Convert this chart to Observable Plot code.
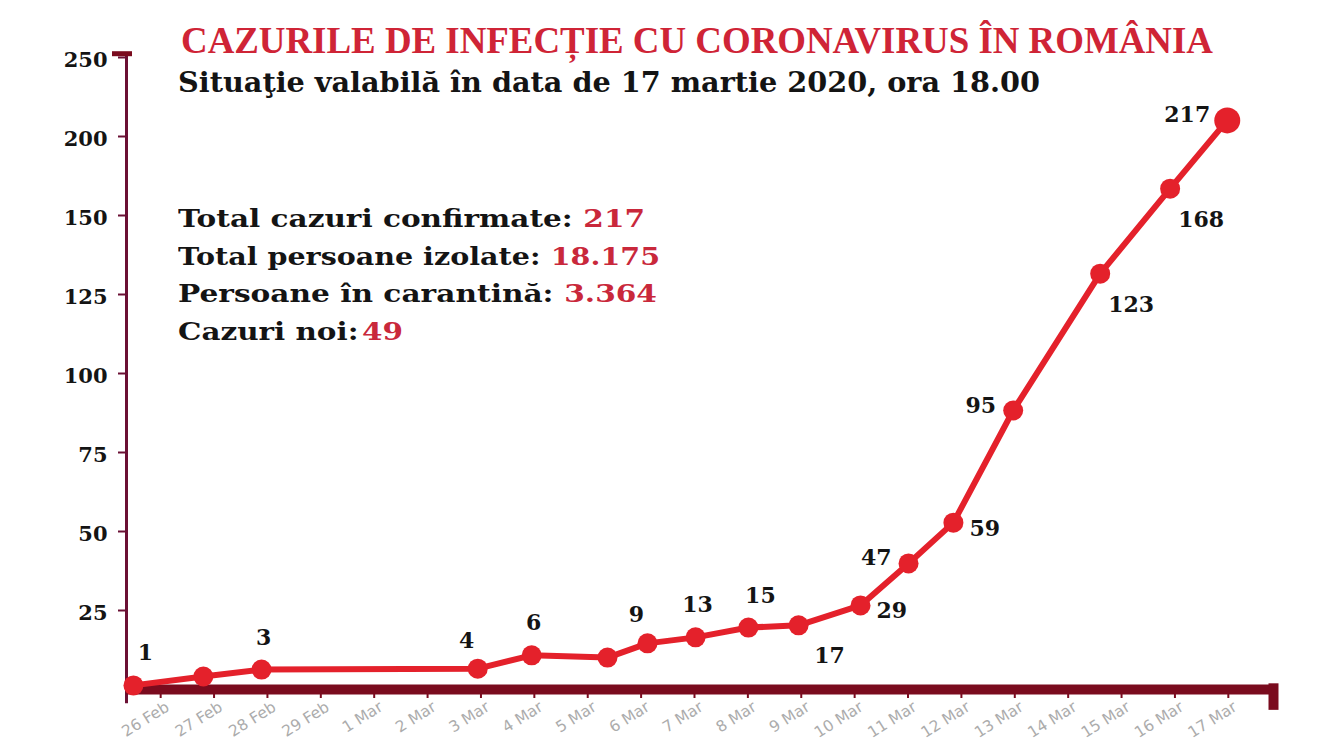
<!DOCTYPE html>
<html><head><meta charset="utf-8">
<script src="https://cdn.jsdelivr.net/npm/d3@7"></script>
<script src="https://cdn.jsdelivr.net/npm/@observablehq/plot@0.6"></script>
<style>
body{margin:0;background:#fff;}
#wrap{position:relative;width:1320px;height:743px;overflow:hidden;background:#fff;}
#wrap svg{position:absolute;left:0;top:0;}
.t{position:absolute;white-space:nowrap;transform-origin:0 0;line-height:1;}
#title{font-family:"Liberation Serif",serif;font-weight:bold;font-size:38px;color:#cf2436;}
.serif{font-family:"DejaVu Serif",serif;font-weight:bold;color:#141414;}
.red{color:#c9283b;}
</style></head><body><div id="wrap"></div>
<script>
// ---- data ----
const dateLabels = ["26 Feb","27 Feb","28 Feb","29 Feb","1 Mar","2 Mar","3 Mar","4 Mar","5 Mar","6 Mar","7 Mar","8 Mar","9 Mar","10 Mar","11 Mar","12 Mar","13 Mar","14 Mar","15 Mar","16 Mar","17 Mar"];
// position of each marker along the day axis (0 = 26 Feb) as drawn
const pointDay   = [-0.51, 0.80, 1.89, 5.94, 6.95, 8.37, 9.12, 10.02, 11.01, 11.95, 13.11, 14.01, 14.85, 15.97, 17.60, 18.91, 19.98];
// height of each marker measured on the evenly spaced gridline scale (25 per gridline)
const pointLevel = [1.3, 4.1, 6.3, 6.6, 10.8, 10.1, 14.6, 16.5, 19.6, 20.3, 26.6, 39.9, 52.8, 88.3, 131.6, 158.5, 180.1];
// printed case counts next to the markers
const caseLabels = [1, null, 3, 4, 6, null, 9, 13, 15, 17, 29, 47, 59, 95, 123, 168, 217];
const labelSide  = ["NE", null, "N", "NW", "N", null, "NW", "N", "NE", "SE", "E", "W", "E", "W", "SE", "SE", "W"];
const yTickValues = [25, 50, 75, 100, 125, 150, 175, 200];
const yTickLabels = ["25", "50", "75", "100", "125", "150", "200", "250"];
const infoLabels = ["Total cazuri confirmate:", "Total persoane izolate:", "Persoane în carantină:", "Cazuri noi:"];
const infoValues = ["217", "18.175", "3.364", "49"];
const titleText = "CAZURILE DE INFECȚIE CU CORONAVIRUS ÎN ROMÂNIA";
const subtitleText = "Situaţie valabilă în data de 17 martie 2020, ora 18.00";

// ---- build ----
const points = pointDay.map((d, i) => ({day: d, level: pointLevel[i], label: caseLabels[i], side: labelSide[i]}));
const xDomain = [-0.64, 20.94];
const yDomain = [0, 200];
const dayTicks = d3.range(dateLabels.length);
const red = "#e4212b";
const maroon = "#7a0b1e";
const axisPurple = "#6b1034";
const lblFont = {fontFamily: "DejaVu Serif", fontWeight: "bold", fontSize: 22, fill: "#141414"};
const sides = {
  N:  {dx: 2,   dy: -32, textAnchor: "middle"},
  NE: {dx: 12,  dy: -32, textAnchor: "middle"},
  NW: {dx: -11, dy: -28, textAnchor: "middle"},
  E:  {dx: 16,  dy: 6,   textAnchor: "start"},
  SE: {dx: 31,  dy: 31,  textAnchor: "middle"},
  W:  {dx: -17, dy: -5,  textAnchor: "end"}
};
const labelMarks = Object.entries(sides).map(([k, o]) =>
  Plot.text(points.filter(p => p.side === k), {x: "day", y: "level", text: "label", ...o, ...lblFont})
);

const chart = Plot.plot({
  width: 1320, height: 743,
  marginLeft: 126, marginRight: 42, marginTop: 57, marginBottom: 54,
  x: {domain: xDomain},
  y: {domain: yDomain},
  style: {background: "transparent", overflow: "visible"},
  marks: [
    // x tick marks
    Plot.axisX({ticks: dayTicks, tickFormat: () => "", label: null, tickSize: 9, stroke: maroon, strokeWidth: 2}),
    // x tick labels
    Plot.axisX({ticks: dayTicks, tickFormat: d => dateLabels[d], tickRotate: -32, label: null,
      tickSize: 0, tickPadding: 16, dx: 7, fontSize: 15.5, fontFamily: "DejaVu Sans", fill: "#acacac"}),
    // y tick marks
    Plot.axisY({ticks: yTickValues, tickFormat: () => "", label: null, tickSize: 8, stroke: axisPurple, strokeWidth: 2}),
    // y tick labels
    Plot.axisY({ticks: yTickValues, tickFormat: d => yTickLabels[yTickValues.indexOf(d)], label: null,
      tickSize: 0, tickPadding: 19, dy: 3, fontSize: 21, fontFamily: "DejaVu Serif", fontWeight: "bold", fill: "#141414"}),
    Plot.ruleX([xDomain[0]], {y1: -4.5, y2: yDomain[1] + 1.3, stroke: axisPurple, strokeWidth: 3}),
    Plot.ruleY([yDomain[1] + 1.2], {x1: xDomain[0], x2: xDomain[0], insetLeft: -14, insetRight: -6, stroke: maroon, strokeWidth: 5}),
    Plot.ruleY([0], {x1: xDomain[0], x2: xDomain[1], stroke: maroon, strokeWidth: 10}),
    Plot.ruleX([xDomain[1]], {y1: 1.8, y2: -6.6, dx: -5, stroke: maroon, strokeWidth: 10}),
    Plot.line(points, {x: "day", y: "level", stroke: red, strokeWidth: 6, strokeLinejoin: "round"}),
    Plot.dot(points.slice(0, -1), {x: "day", y: "level", r: 10, fill: red}),
    Plot.dot(points.slice(-1), {x: "day", y: "level", r: 13, fill: red}),
    ...labelMarks
  ]
});
const wrap = document.getElementById("wrap");
wrap.appendChild(chart);

function addText(html, cls, left, top, targetWidth, fontSize, id) {
  const el = document.createElement("div");
  el.className = "t " + cls;
  if (id) el.id = id;
  if (fontSize) el.style.fontSize = fontSize + "px";
  el.style.left = left + "px";
  el.style.top = top + "px";
  el.innerHTML = html;
  wrap.appendChild(el);
  const w = el.getBoundingClientRect().width;
  el.style.transform = `scaleX(${targetWidth / w})`;
  return el;
}
addText(titleText, "", 181, 21, 1032, null, "title");
addText(subtitleText, "serif", 178, 69, 862, 27);
const infoWidths = [467, 482, 479, 225];
infoLabels.forEach((lab, i) => {
  addText(`${lab}<span class="red" style="margin-left:${i === 3 ? 3 : 9}px">${infoValues[i]}</span>`,
    "serif", 178, 206 + i * 37.7, infoWidths[i], 25);
});
</script></body></html>
